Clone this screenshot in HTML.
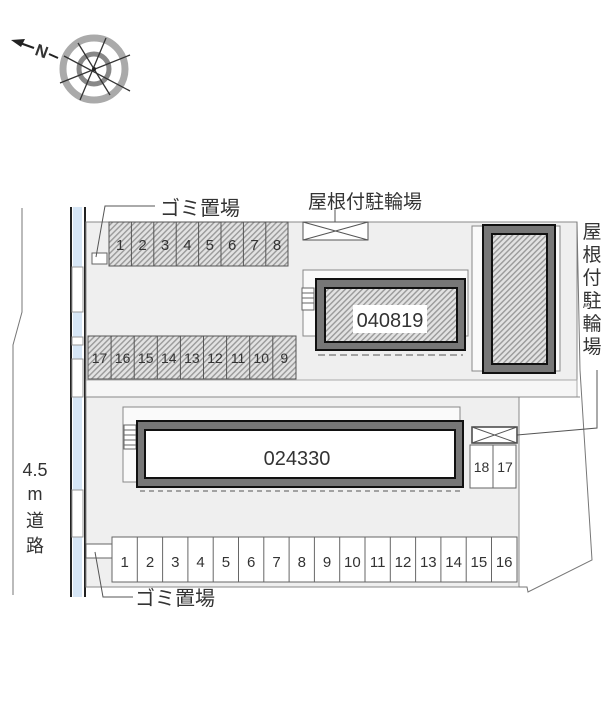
<!DOCTYPE html>
<html><head><meta charset="utf-8">
<style>
html,body{margin:0;padding:0;background:#fff;}
svg{display:block;}
text{font-family:"Liberation Sans","Noto Sans CJK JP",sans-serif;fill:#333;}
</style></head><body>
<svg width="612" height="720" viewBox="0 0 612 720" xmlns="http://www.w3.org/2000/svg">
<defs>
<pattern id="h" width="4" height="4" patternUnits="userSpaceOnUse" patternTransform="rotate(45)">
<rect width="4" height="4" fill="#e2e2e2"/><rect width="1.4" height="4" fill="#999"/>
</pattern>
</defs>

<!-- compass -->
<circle cx="94" cy="69" r="31" fill="none" stroke="#aaa" stroke-width="7"/>
<circle cx="94" cy="69" r="15" fill="none" stroke="#888" stroke-width="5"/>
<g stroke="#333" stroke-width="1.3">
<line x1="78" y1="43" x2="110" y2="95"/>
<line x1="106" y1="38" x2="80" y2="100"/>
<line x1="64" y1="56" x2="130" y2="91"/>
<line x1="60" y1="83" x2="130" y2="55"/>
</g>
<circle cx="94" cy="69" r="2" fill="#222"/>
<polygon points="11,40 25,39 21,47" fill="#222"/>
<line x1="20" y1="43" x2="34" y2="48" stroke="#222" stroke-width="2.2"/>
<text x="36" y="57" font-size="17" font-weight="bold" transform="rotate(20 42 50)" fill="#222">N</text>
<line x1="49" y1="54" x2="58" y2="58" stroke="#222" stroke-width="2"/>

<!-- road -->
<polyline points="22,208 22,312 13,345 13,595" fill="none" stroke="#777" stroke-width="1"/>
<text x="35" y="476" font-size="18" text-anchor="middle">4.5</text>
<text x="35" y="500" font-size="18" text-anchor="middle">m</text>
<text x="35" y="527" font-size="18" text-anchor="middle">道</text>
<text x="35" y="552" font-size="18" text-anchor="middle">路</text>
<g fill="#d6e6f6">
<rect x="73" y="207" width="9" height="60"/>
<rect x="73" y="312" width="9" height="25"/>
<rect x="73" y="345" width="9" height="14"/>
<rect x="73" y="397" width="9" height="93"/>
<rect x="73" y="537" width="9" height="60"/>
</g>
<g stroke="#222" stroke-width="2">
<line x1="71" y1="207" x2="71" y2="597"/>
<line x1="85" y1="207" x2="85" y2="597"/>
</g>
<g stroke="#999" stroke-width="1" fill="none">
<rect x="72" y="267" width="11" height="45"/>
<rect x="72" y="337" width="11" height="8"/>
<rect x="72" y="359" width="11" height="38"/>
<rect x="72" y="490" width="11" height="47"/>
</g>

<!-- lot areas -->
<rect x="86" y="222" width="491" height="158" fill="#efefef" stroke="#888" stroke-width="1"/>
<rect x="86" y="380" width="491" height="17" fill="#f6f6f6" stroke="#aaa" stroke-width="1"/>
<rect x="86" y="397" width="433" height="190" fill="#efefef" stroke="#888" stroke-width="1"/>
<polyline points="577,222 580,370 592,560 528,592 527,587 519,587" fill="none" stroke="#777" stroke-width="1"/>
<line x1="519" y1="397" x2="580" y2="397" stroke="#888"/>

<!-- top parking 1-8 -->
<rect x="109" y="222" width="179" height="44" fill="url(#h)" stroke="#555"/>
<g stroke="#555">
<line x1="131.4" y1="222" x2="131.4" y2="266"/><line x1="153.8" y1="222" x2="153.8" y2="266"/>
<line x1="176.2" y1="222" x2="176.2" y2="266"/><line x1="198.6" y1="222" x2="198.6" y2="266"/>
<line x1="221" y1="222" x2="221" y2="266"/><line x1="243.4" y1="222" x2="243.4" y2="266"/>
<line x1="265.8" y1="222" x2="265.8" y2="266"/>
</g>
<g font-size="15" text-anchor="middle">
<text x="120.2" y="250">1</text><text x="142.6" y="250">2</text><text x="165" y="250">3</text><text x="187.4" y="250">4</text>
<text x="209.8" y="250">5</text><text x="232.2" y="250">6</text><text x="254.6" y="250">7</text><text x="277" y="250">8</text>
</g>
<rect x="92" y="253" width="15" height="11" fill="#fff" stroke="#666"/>
<polyline points="96,257 105,206 155,206" fill="none" stroke="#555"/>
<text x="160" y="215" font-size="20">ゴミ置場</text>

<!-- row 17-9 -->
<rect x="88" y="336" width="208" height="43" fill="url(#h)" stroke="#555"/>
<g stroke="#555">
<line x1="111.1" y1="336" x2="111.1" y2="379"/><line x1="134.2" y1="336" x2="134.2" y2="379"/>
<line x1="157.3" y1="336" x2="157.3" y2="379"/><line x1="180.4" y1="336" x2="180.4" y2="379"/>
<line x1="203.5" y1="336" x2="203.5" y2="379"/><line x1="226.6" y1="336" x2="226.6" y2="379"/>
<line x1="249.7" y1="336" x2="249.7" y2="379"/><line x1="272.8" y1="336" x2="272.8" y2="379"/>
</g>
<g font-size="14" text-anchor="middle">
<text x="99.5" y="363">17</text><text x="122.6" y="363">16</text><text x="145.7" y="363">15</text><text x="168.8" y="363">14</text>
<text x="191.9" y="363">13</text><text x="215" y="363">12</text><text x="238.1" y="363">11</text><text x="261.2" y="363">10</text><text x="284.3" y="363">9</text>
</g>

<!-- top bike shed -->
<text x="308" y="208" font-size="19">屋根付駐輪場</text>
<line x1="335" y1="210" x2="335" y2="232" stroke="#555"/>
<rect x="303" y="222" width="65" height="18" fill="#fff" stroke="#555"/>
<line x1="303" y1="222" x2="368" y2="240" stroke="#555"/><line x1="303" y1="240" x2="368" y2="222" stroke="#555"/>

<!-- building 040819 -->
<rect x="303" y="270" width="165" height="66" fill="#fafafa" stroke="#888"/>
<rect x="302" y="288" width="12" height="22" fill="#fff" stroke="#666"/>
<g stroke="#666"><line x1="302" y1="293" x2="314" y2="293"/><line x1="302" y1="298" x2="314" y2="298"/><line x1="302" y1="303" x2="314" y2="303"/></g>
<rect x="316" y="279" width="149" height="71" fill="#777" stroke="#111" stroke-width="2"/>
<rect x="325" y="288" width="132" height="54" fill="url(#h)" stroke="#111" stroke-width="2"/>
<rect x="353" y="305" width="74" height="28" fill="#fff"/>
<text x="390" y="327" font-size="20" text-anchor="middle">040819</text>
<line x1="318" y1="355" x2="463" y2="355" stroke="#888" stroke-width="1.5" stroke-dasharray="7,4"/>

<!-- right building -->
<rect x="472" y="226" width="88" height="145" fill="#fafafa" stroke="#888"/>
<rect x="483" y="225" width="72" height="148" fill="#777" stroke="#111" stroke-width="2"/>
<rect x="492" y="234" width="55" height="130" fill="url(#h)" stroke="#111" stroke-width="2"/>

<!-- vertical label -->
<g font-size="19" text-anchor="middle">
<text x="592" y="238">屋</text><text x="592" y="261">根</text><text x="592" y="284">付</text>
<text x="592" y="307">駐</text><text x="592" y="330">輪</text><text x="592" y="353">場</text>
</g>
<polyline points="597,370 597,428 517,435" fill="none" stroke="#555"/>

<!-- building 024330 -->
<rect x="123" y="407" width="337" height="75" fill="#fafafa" stroke="#888"/>
<rect x="124" y="425" width="12" height="24" fill="#fff" stroke="#666"/>
<g stroke="#666"><line x1="124" y1="430" x2="136" y2="430"/><line x1="124" y1="435" x2="136" y2="435"/><line x1="124" y1="440" x2="136" y2="440"/><line x1="124" y1="445" x2="136" y2="445"/></g>
<rect x="137" y="421" width="326" height="66" fill="#777" stroke="#111" stroke-width="2"/>
<rect x="145" y="430" width="310" height="48" fill="#fff" stroke="#111" stroke-width="2"/>
<text x="297" y="465" font-size="20" text-anchor="middle">024330</text>
<line x1="140" y1="491" x2="460" y2="491" stroke="#888" stroke-width="1.5" stroke-dasharray="5,4"/>

<!-- small bike box & 18/17 -->
<rect x="472" y="427" width="45" height="16" fill="#fff" stroke="#444" stroke-width="1.5"/>
<line x1="472" y1="427" x2="517" y2="443" stroke="#555"/><line x1="472" y1="443" x2="517" y2="427" stroke="#555"/>
<rect x="470" y="445" width="46" height="43" fill="#fff" stroke="#666"/>
<line x1="493" y1="445" x2="493" y2="488" stroke="#666"/>
<text x="481.5" y="472" font-size="14" text-anchor="middle">18</text>
<text x="505" y="472" font-size="14" text-anchor="middle">17</text>

<!-- bottom row 1-16 -->
<rect x="112" y="537" width="405" height="45" fill="#fff" stroke="#666"/>
<g stroke="#666">
<line x1="137.3" y1="537" x2="137.3" y2="582"/><line x1="162.6" y1="537" x2="162.6" y2="582"/><line x1="187.9" y1="537" x2="187.9" y2="582"/>
<line x1="213.2" y1="537" x2="213.2" y2="582"/><line x1="238.5" y1="537" x2="238.5" y2="582"/><line x1="263.8" y1="537" x2="263.8" y2="582"/>
<line x1="289.1" y1="537" x2="289.1" y2="582"/><line x1="314.4" y1="537" x2="314.4" y2="582"/><line x1="339.7" y1="537" x2="339.7" y2="582"/>
<line x1="365" y1="537" x2="365" y2="582"/><line x1="390.3" y1="537" x2="390.3" y2="582"/><line x1="415.6" y1="537" x2="415.6" y2="582"/>
<line x1="440.9" y1="537" x2="440.9" y2="582"/><line x1="466.2" y1="537" x2="466.2" y2="582"/><line x1="491.5" y1="537" x2="491.5" y2="582"/>
</g>
<g font-size="15" text-anchor="middle">
<text x="124.7" y="567">1</text><text x="150" y="567">2</text><text x="175.3" y="567">3</text><text x="200.6" y="567">4</text>
<text x="225.9" y="567">5</text><text x="251.2" y="567">6</text><text x="276.5" y="567">7</text><text x="301.8" y="567">8</text>
<text x="327.1" y="567">9</text><text x="352.4" y="567">10</text><text x="377.7" y="567">11</text><text x="403" y="567">12</text>
<text x="428.3" y="567">13</text><text x="453.6" y="567">14</text><text x="478.9" y="567">15</text><text x="504.2" y="567">16</text>
</g>
<rect x="86" y="544" width="26" height="14" fill="#fff" stroke="#666"/>
<polyline points="95,552 103,597 133,597" fill="none" stroke="#555"/>
<text x="135" y="605" font-size="20">ゴミ置場</text>
</svg>
</body></html>
